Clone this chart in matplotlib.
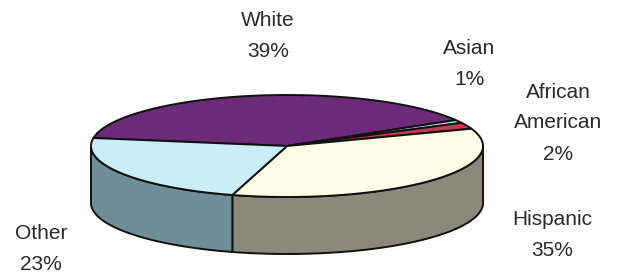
import numpy as np
import matplotlib
matplotlib.use("Agg")
import matplotlib.pyplot as plt
from matplotlib.patches import Polygon

groups = ["White", "Asian", "African\nAmerican", "Hispanic", "Other"]
shares = [39, 1, 2, 35, 23]
top_colors = ["#6b2b78", "#a8dcea", "#c23a52", "#fdfde6", "#c9eef8"]
side_colors = ["#4a1d55", "#7fb0bd", "#8e2a3c", "#8b897a", "#6f8e97"]

# label anchor points (pixel space)
label_xy = [(268, 36), (469, 64), (558, 123), (552, 235), (41, 249)]

cx, cy, a, b, depth = 287, 146, 196, 51, 57
start = 171.0

fig = plt.figure(figsize=(6.18, 2.73), dpi=100)
ax = fig.add_axes([0, 0, 1, 1])
ax.set_xlim(0, 618)
ax.set_ylim(273, 0)
ax.axis("off")

def pt(t, dy=0):
    r = np.radians(t)
    return cx + a * np.cos(r), cy - b * np.sin(r) + dy

fracs = np.array(shares) / sum(shares)
bounds = [start]
for f in fracs:
    bounds.append(bounds[-1] - f * 360)

# side walls (front half only: angles between -180 and 0)
for i in range(len(shares)):
    hi, lo = bounds[i], bounds[i + 1]
    for shift in (0, -360, 360):
        h, l = hi + shift, lo + shift
        s_hi, s_lo = min(h, 0), max(l, -180)
        if s_hi <= s_lo:
            continue
        ts = np.linspace(s_hi, s_lo, 80)
        top = [pt(t) for t in ts]
        bot = [pt(t, depth) for t in ts[::-1]]
        ax.add_patch(Polygon(top + bot, closed=True, facecolor=side_colors[i],
                             edgecolor="#111111", linewidth=1.4, zorder=1))

# top wedges
for i in range(len(shares)):
    ts = np.linspace(bounds[i], bounds[i + 1], 120)
    verts = [(cx, cy)] + [pt(t) for t in ts]
    ax.add_patch(Polygon(verts, closed=True, facecolor=top_colors[i],
                         edgecolor="#111111", linewidth=1.4, zorder=2))

for g, s, (x, y) in zip(groups, shares, label_xy):
    ax.text(x, y, f"{g}\n{s}%", ha="center", va="center", fontsize=15,
            family="Liberation Sans", color="#2a2a2a", linespacing=1.8)

fig.savefig("out.png", dpi=100)
